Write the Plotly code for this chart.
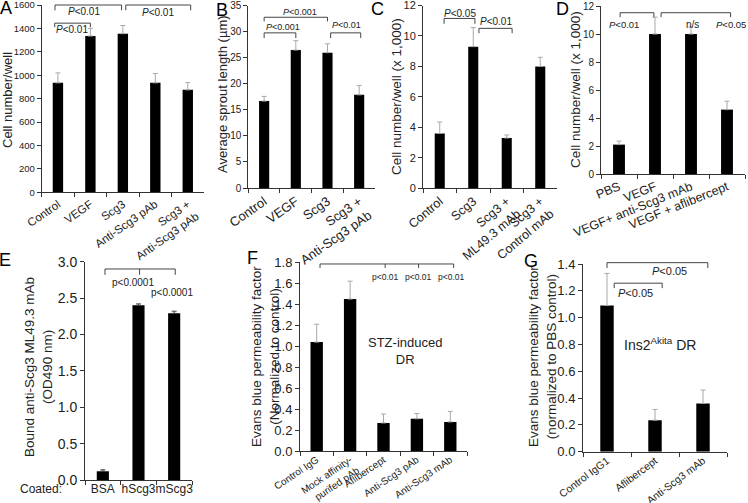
import plotly.graph_objects as go

W, H = 748, 503
FONT = "Arial, Liberation Sans, sans-serif"
TXT = "#222222"

# ---------------- data ----------------
a_cats = ["Control", "VEGF", "Scg3", "Anti-Scg3 pAb", "Scg3 +<br>Anti-Scg3 pAb"]
a_vals = [935, 1335, 1355, 935, 875]
a_err = [85, 65, 70, 80, 62]

b_cats = ["Control", "VEGF", "Scg3", "Scg3 +<br>Anti-Scg3 pAb"]
b_vals = [16.7, 26.5, 26.0, 17.9]
b_err = [0.9, 1.8, 1.7, 1.8]

c_cats = ["Control", "Scg3", "Scg3 +<br>ML49.3 mAb", "Scg3 +<br>Control mAb"]
c_vals = [3.6, 9.3, 3.3, 8.0]
c_err = [0.75, 1.25, 0.2, 0.6]

d_cats = ["PBS", "VEGF", "VEGF+ anti-Scg3 mAb", "VEGF + aflibercept"]
d_vals = [2.1, 10.0, 10.0, 4.6]
d_err = [0.25, 1.2, 0.5, 0.6]

e_cats = ["BSA", "hScg3", "mScg3"]
e_vals = [0.12, 2.40, 2.29]
e_err = [0.02, 0.02, 0.03]

f_cats = ["Control IgG", "Mock affinity-<br>purifed pAb", "Aflibercept", "Anti-Scg3 pAb", "Anti-Scg3 mAb"]
f_vals = [1.04, 1.45, 0.27, 0.31, 0.28]
f_err = [0.17, 0.17, 0.085, 0.05, 0.10]

g_cats = ["Control IgG1", "Aflibercept", "Anti-Scg3 mAb"]
g_vals = [1.09, 0.235, 0.36]
g_err = [0.24, 0.08, 0.10]

PI = "<i>P</i>&lt;"

panels = [
    dict(cats=a_cats, vals=a_vals, err=a_err, box=(41.7, 204, 5, 192.3), ymax=1600, dtick=200, fmt="",
         yfont=9.5, xfont=11.5, angle=-35, bw=0.32, ecol="#a8a8a8", stand=0,
         brackets=[(-0.09, 1.96, 1600, 1555, []), (2.09, 4.09, 1600, 1555, []), (-0.1, 1.0, 1445, 1410, [])],
         labels=[(PI + "0.01", 0.8, 1545, 10), (PI + "0.01", 3.08, 1538, 10), (PI + "0.01", 0.43, 1394, 10)]),
    dict(cats=b_cats, vals=b_vals, err=b_err, box=(248.3, 375, 5.8, 188), ymax=35, dtick=5, fmt="",
         yfont=10, xfont=13, angle=-35, bw=0.32, ecol="#a8a8a8", stand=0,
         brackets=[(0, 2.0, 32.8, 32.0, []), (0, 1.0, 29.8, 28.8, []), (2.1, 3.05, 29.8, 28.8, [])],
         labels=[(PI + "0.001", 1.13, 33.9, 9), (PI + "0.001", 0.6, 30.9, 9), (PI + "0.01", 2.6, 31.4, 9)]),
    dict(cats=c_cats, vals=c_vals, err=c_err, box=(423, 557, 5.5, 188.3), ymax=12, dtick=2, fmt="",
         yfont=11, xfont=12.5, angle=-40, bw=0.30, ecol="#a8a8a8", stand=0,
         brackets=[(0.13, 1.05, 11.15, 10.8, []), (1.17, 2.16, 10.5, 10.18, [])],
         labels=[(PI + "0.05", 0.6, 11.5, 10), (PI + "0.01", 1.68, 10.96, 10)]),
    dict(cats=d_cats, vals=d_vals, err=d_err, box=(601, 745, 6, 174), ymax=12, dtick=2, fmt="",
         yfont=10, xfont=12.5, angle=-22, bw=0.33, ecol="#a8a8a8", stand=0,
         brackets=[(0.03, 0.97, 11.52, 11.2, []), (1.17, 3.1, 11.52, 11.2, [])],
         labels=[(PI + "0.01", 0.14, 10.7, 9.5), ("n/s", 2.05, 10.7, 10), (PI + "0.05", 3.1, 10.7, 9.5)]),
    dict(cats=e_cats, vals=e_vals, err=e_err, box=(85, 192, 261.7, 480), ymax=3.0, dtick=0.5, fmt=".1f",
         yfont=14, xfont=12, angle=0, bw=0.34, ecol="#444444", stand=-2,
         brackets=[(0.06, 2.03, 2.90, 2.82, [1.03])],
         labels=[("p&lt;0.0001", 0.85, 2.71, 10), ("p&lt;0.0001", 1.95, 2.58, 10)]),
    dict(cats=f_cats, vals=f_vals, err=f_err, box=(300, 467, 262.3, 451.3), ymax=1.8, dtick=0.2, fmt=".1f",
         yfont=13, xfont=10, angle=-34, bw=0.37, ecol="#a8a8a8", stand=-2,
         brackets=[(0.1, 4.1, 1.784, 1.746, [2.05, 3.05])],
         labels=[("p&lt;0.01", 2.05, 1.66, 8.5), ("p&lt;0.01", 3.05, 1.66, 8.5), ("p&lt;0.01", 4.05, 1.66, 8.5)]),
    dict(cats=g_cats, vals=g_vals, err=g_err, box=(583, 727, 264, 451.7), ymax=1.4, dtick=0.2, fmt=".1f",
         yfont=13, xfont=10.5, angle=-37, bw=0.28, ecol="#a8a8a8", stand=-2,
         brackets=[(0.0, 2.1, 1.41, 1.37, []), (0.15, 1.15, 1.257, 1.22, [])],
         labels=[(PI + "0.05", 1.3, 1.35, 11), (PI + "0.05", 0.6, 1.18, 11)]),
]

fig = go.Figure()
layout = dict(template="none", width=W, height=H, margin=dict(l=0, r=0, t=0, b=0, pad=0, autoexpand=False),
              paper_bgcolor="white", plot_bgcolor="white",
              font=dict(family=FONT, color=TXT), showlegend=False)
shapes, annotations = [], []

for idx, p in enumerate(panels):
    k = idx + 1
    xa = "x" if k == 1 else f"x{k}"
    ya = "y" if k == 1 else f"y{k}"
    n = len(p["cats"])
    fig.add_trace(go.Bar(
        x=p["cats"], y=p["vals"], width=p["bw"], marker=dict(color="black", line=dict(width=0)),
        error_y=dict(type="data", symmetric=False, array=p["err"], arrayminus=[0] * n,
                     color=p["ecol"], thickness=1, width=2.5),
        xaxis=xa, yaxis=ya, hoverinfo="skip"))
    x0, x1, yt, yb = p["box"]
    layout["xaxis" if k == 1 else f"xaxis{k}"] = dict(
        domain=[x0 / W, x1 / W], anchor=ya, type="category", range=[-0.5, n - 0.5], automargin=False,
        tickson="boundaries", ticks="outside", ticklen=4, tickcolor="#333", showline=True,
        linecolor="#333", linewidth=1, showgrid=False, zeroline=False, tickangle=p["angle"],
        ticklabelstandoff=p["stand"], ticklabeloverflow="allow",
        tickfont=dict(size=p["xfont"], family=FONT, color=TXT), fixedrange=True)
    layout["yaxis" if k == 1 else f"yaxis{k}"] = dict(
        domain=[1 - yb / H, 1 - yt / H], anchor=xa, range=[0, p["ymax"]], dtick=p["dtick"], tick0=0,
        tickformat=p["fmt"], ticks="outside", ticklen=4, tickcolor="#333", showline=True, automargin=False,
        linecolor="#333", linewidth=1, showgrid=False, zeroline=False, ticklabeloverflow="allow",
        tickfont=dict(size=p["yfont"], family=FONT, color=TXT), fixedrange=True)

    def xd(c, n=n):
        return (c + 0.5) / n

    def yd(v, m=p["ymax"]):
        return v / m

    for (ca, cb, yl, ydrop, mids) in p["brackets"]:
        common = dict(type="line", xref=f"{xa} domain", yref=f"{ya} domain",
                      line=dict(color="#444", width=1))
        shapes.append(dict(x0=xd(ca), x1=xd(cb), y0=yd(yl), y1=yd(yl), **common))
        for c in [ca, cb] + mids:
            shapes.append(dict(x0=xd(c), x1=xd(c), y0=yd(yl), y1=yd(ydrop), **common))
    for (txt, c, v, fs) in p["labels"]:
        annotations.append(dict(text=txt, x=xd(c), y=yd(v), xref=f"{xa} domain", yref=f"{ya} domain",
                                showarrow=False, xanchor="center", yanchor="middle",
                                font=dict(size=fs, family=FONT, color=TXT)))

# in-plot text
annotations.append(dict(text="STZ-induced<br>DR", x=(2.65 + 0.5) / 5, y=0.955 / 1.8,
                        xref="x6 domain", yref="y6 domain", showarrow=False,
                        font=dict(size=13, family=FONT, color=TXT)))
annotations.append(dict(text="Ins2<sup>Akita</sup> DR", x=(1.1 + 0.5) / 3, y=0.80 / 1.4,
                        xref="x7 domain", yref="y7 domain", showarrow=False,
                        font=dict(size=14, family=FONT, color=TXT)))


def pa(text, px, py, size, angle=0, color=TXT, xanchor="center"):
    annotations.append(dict(text=text, x=px / W, y=1 - py / H, xref="paper", yref="paper",
                            showarrow=False, textangle=angle, xanchor=xanchor, yanchor="middle",
                            font=dict(size=size, family=FONT, color=color)))


# axis titles
pa("Cell number/well", 8, 100, 13, -90)
pa("Average sprout length (µm)", 223, 94, 13, -90)
pa("Cell number/well (x 1,000)", 396, 97, 13.5, -90)
pa("Cell number/well (x 1,000)", 575, 90, 13.5, -90)
pa("Bound anti-Scg3 ML49.3 mAb<br>(OD490 nm)", 38, 367, 13.5, -90)
pa("Evans blue permeability factor<br>(Normalized to control)", 265, 357, 13.5, -90)
pa("Evans blue permeability factor<br>(normalized to PBS control)", 542, 357, 13.5, -90)
pa("Coated:", 41, 489, 12)

# panel letters
for letter, px, py in [("A", 6, 8), ("B", 222, 10), ("C", 377, 9), ("D", 562, 9),
                       ("E", 5, 260), ("F", 252, 258), ("G", 531, 261)]:
    pa(letter, px, py, 18, color="black")

layout["shapes"] = shapes
layout["annotations"] = annotations
fig.update_layout(**layout)
fig.write_html("out.html", config={"responsive": False, "displayModeBar": False},
               post_script="document.body.style.margin='0';document.body.style.overflow='hidden';")
